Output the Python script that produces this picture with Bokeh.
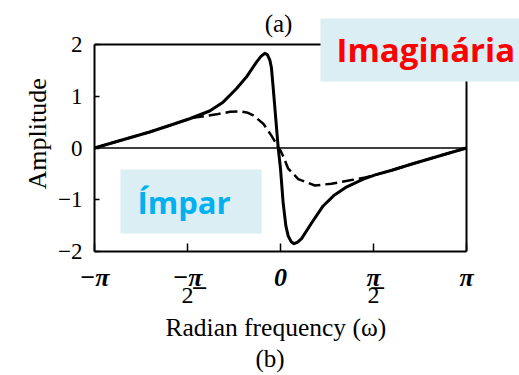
import numpy as np
from bokeh.plotting import figure
from bokeh.models import Range1d, FixedTicker, Label, LinearAxis, Title
from bokeh.embed import file_html
from bokeh.resources import INLINE

PI = np.pi

# --- data ---
omega_solid = [-3.1416, -2.75, -2.21, -1.875, -1.536, -1.197, -0.97, -0.745, -0.576, -0.406,
               -0.33, -0.266, -0.22, -0.18, -0.153, -0.12, -0.08, -0.04, 0.0, 0.044, 0.09,
               0.13, 0.18, 0.23, 0.29, 0.356, 0.525, 0.72, 0.9, 1.12, 1.4, 1.6, 1.88, 2.22,
               2.75, 3.1416]
imag_solid = [0.0, 0.13, 0.31, 0.435, 0.565, 0.715, 0.886, 1.145, 1.37, 1.66,
              1.77, 1.83, 1.80, 1.70, 1.55, 1.12, 0.57, 0.02, -0.40, -1.05, -1.50,
              -1.70, -1.81, -1.85, -1.82, -1.75, -1.45, -1.12, -0.92, -0.75, -0.60, -0.52,
              -0.43, -0.31, -0.13, 0.0]
omega_dashed = [-3.1416, -2.75, -2.21, -1.875, -1.48, -1.08, -0.85, -0.69, -0.55, -0.46,
                -0.29, -0.153, -0.04, 0.0, 0.05, 0.13, 0.30, 0.58, 0.86, 1.20, 1.43, 1.6,
                1.88, 2.22, 2.75, 3.1416]
imag_dashed = [0.0, 0.13, 0.31, 0.435, 0.585, 0.65, 0.70, 0.71, 0.68, 0.63,
               0.47, 0.24, 0.02, -0.05, -0.17, -0.40, -0.60, -0.725, -0.69, -0.62, -0.57,
               -0.52, -0.43, -0.31, -0.13, 0.0]

x_ticks = [-PI, -PI / 2, 0.0, PI / 2, PI]
x_tick_top = ["\u2212\u03c0", "\u2212\u03c0\u0332", "0", "\u03c0\u0332", "\u03c0"]
x_tick_bottom = ["", "2", "", "2", ""]
y_ticks = [-2, -1, 0, 1, 2]
y_tick_labels = ["\u22122", "\u22121", "0", "1", "2"]
x_title = "Radian frequency (\u03c9)"
y_title = "Amplitude"
top_caption = "(a)"
bottom_caption = "(b)"
tag_part = "Imagin\u00e1ria"
tag_parity = "\u00cdmpar"

SERIF = "Liberation Serif"
SANS = "Open Sans"

# layout (pixels): axes box spans x 94..466, y 44..251 of a 519x375 canvas;
# the plotting frame extends to the top/right canvas edges so the tag boxes are not clipped
W, H = 519, 375
BOX_L, BOX_R, BOX_T, BOX_B = 94, 466, 44, 251
x_end = x_ticks[-1] + (x_ticks[-1] - x_ticks[0]) * (W - BOX_R) / (BOX_R - BOX_L)
y_end = y_ticks[-1] + (y_ticks[-1] - y_ticks[0]) * (BOX_T - 0) / (BOX_B - BOX_T)

p = figure(width=W, height=H, output_backend="svg", toolbar_location=None,
           x_range=Range1d(x_ticks[0], x_end), y_range=Range1d(y_ticks[0], y_end), title=None,
           min_border_left=BOX_L, min_border_right=0, min_border_top=0,
           min_border_bottom=H - BOX_B)
p.background_fill_color = "white"
p.border_fill_color = "white"
p.outline_line_color = None
p.xgrid.visible = False
p.ygrid.visible = False

# main x axis: first row of tick labels
xa = p.xaxis[0]
xa.bounds = (x_ticks[0], x_ticks[-1])
xa.ticker = FixedTicker(ticks=x_ticks)
xa.major_label_overrides = dict(zip(x_ticks, x_tick_top))
xa.major_tick_in = 8
xa.major_tick_out = 0
xa.minor_tick_line_color = None
xa.major_tick_line_width = 1.5
xa.axis_line_width = 2
xa.major_label_standoff = 11
xa.major_label_text_font = SERIF
xa.major_label_text_font_size = "26px"
xa.major_label_text_font_style = "bold italic"
xa.major_label_text_color = "black"

# second row (fraction denominators)
xb = LinearAxis(ticker=FixedTicker(ticks=x_ticks), bounds=(x_ticks[0], x_ticks[-1]),
                major_label_overrides=dict(zip(x_ticks, x_tick_bottom)),
                axis_line_color=None, major_tick_line_color=None, minor_tick_line_color=None,
                major_tick_in=0, major_tick_out=0, major_label_standoff=-7,
                major_label_text_font=SERIF, major_label_text_font_size="24px",
                major_label_text_color="black")
p.add_layout(xb, "below")


def make_title(text, offset, standoff, size, fallback=0, valign="top"):
    t = Title(text=text, align="left", offset=offset, vertical_align=valign,
              text_font=SERIF, text_font_size=size, text_font_style="normal",
              text_color="black")
    try:
        t.standoff = standoff
    except Exception:
        t.standoff = fallback
    return t


p.add_layout(make_title(x_title, 71, 14, "25.5px"), "below")
p.add_layout(make_title(bottom_caption, 161, -11, "25px"), "below")

ya = p.yaxis[0]
ya.bounds = (y_ticks[0], y_ticks[-1])
ya.ticker = FixedTicker(ticks=y_ticks)
ya.major_label_overrides = dict(zip(y_ticks, y_tick_labels))
ya.major_tick_in = 5
ya.major_tick_out = 0
ya.minor_tick_line_color = None
ya.major_tick_line_width = 1.5
ya.axis_line_width = 2
ya.major_label_standoff = 12
ya.major_label_text_font = SERIF
ya.major_label_text_font_size = "23px"
ya.major_label_text_color = "black"

p.add_layout(make_title(y_title, 62, 8, "26px", fallback=8, valign="bottom"), "left")

# top and right sides of the axes box, and the zero line
p.line([x_ticks[0], x_ticks[-1], x_ticks[-1]], [y_ticks[-1], y_ticks[-1], y_ticks[0]],
       line_color="black", line_width=2)
p.line([x_ticks[0], x_ticks[-1]], [0, 0], line_color="black", line_width=1.5)

p.line(omega_dashed, imag_dashed, line_color="black", line_width=2.5, line_dash="12 5",
       line_join="round")
p.line(omega_solid, imag_solid, line_color="black", line_width=3, line_join="round")

# caption above the axes box (inside the frame)
p.add_layout(Label(x=0.0, y=BOX_B - 22.7, x_units="data", y_units="screen", text=top_caption,
                   text_font=SERIF, text_font_size="25px", text_align="center",
                   text_baseline="alphabetic", x_offset=-2, text_color="black"))

# tag boxes (positions in pixels from the frame's bottom-left corner, anchor = box top-left)
p.add_layout(Label(x=320 - BOX_L, y=BOX_B - 18, x_units="screen", y_units="screen",
                   text=tag_part, text_font=SANS, text_font_size="33px", text_font_style="bold",
                   text_color="#FF0000", text_align="left", text_baseline="top",
                   background_fill_color="#DAEEF3",
                   padding=dict(left=16, right=7, top=8, bottom=10)))
p.add_layout(Label(x=120 - BOX_L, y=BOX_B - 169, x_units="screen", y_units="screen",
                   text=tag_parity, text_font=SANS, text_font_size="31px", text_font_style="bold",
                   text_color="#00B0F0", text_align="left", text_baseline="top",
                   background_fill_color="#DAEEF3",
                   padding=dict(left=17, right=31, top=11, bottom=11)))

open("out.html", "w").write(file_html(p, INLINE))
